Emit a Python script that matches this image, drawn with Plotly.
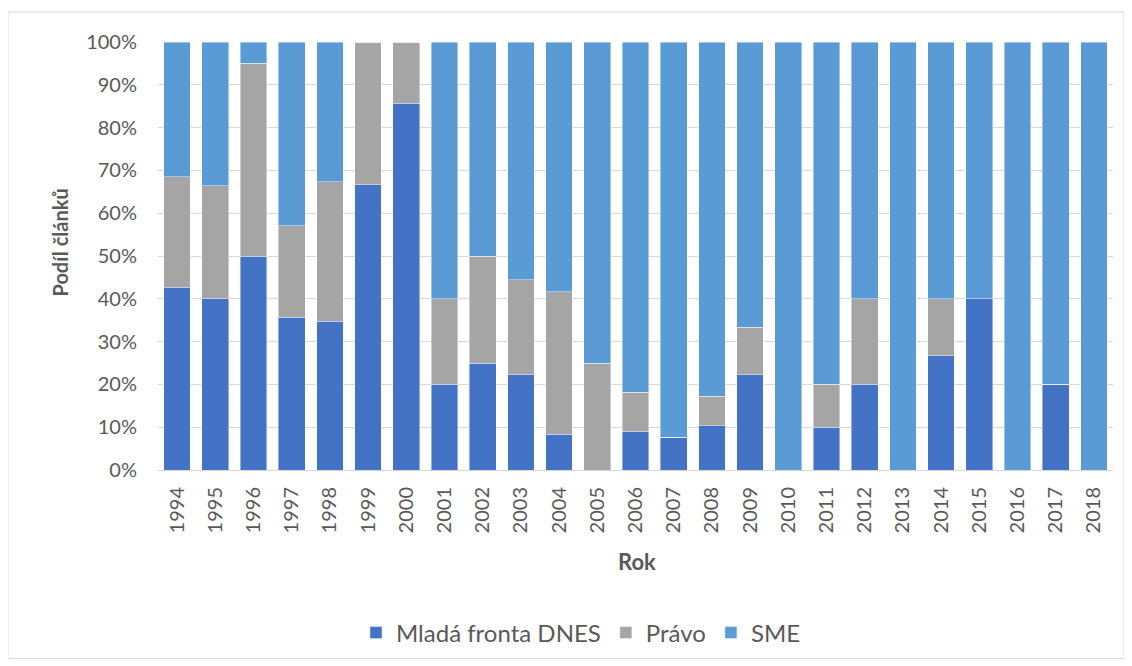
import plotly.graph_objects as go

years = [str(y) for y in range(1994, 2019)]

# podíl článků v %, čteno z grafu
mlada_fronta = [42.7, 40.0, 50.0, 35.7, 34.8, 66.7, 85.7, 20.0, 25.0, 22.2, 8.3, 0.0, 9.1,
                7.7, 10.3, 22.2, 0.0, 10.0, 20.0, 0.0, 26.7, 40.0, 0.0, 20.0, 0.0]
pravo = [25.8, 26.4, 45.0, 21.4, 32.6, 33.3, 14.3, 20.0, 25.0, 22.2, 33.4, 25.0, 9.1,
         0.0, 6.9, 11.1, 0.0, 10.0, 20.0, 0.0, 13.3, 0.0, 0.0, 0.0, 0.0]
sme = [31.5, 33.6, 5.0, 42.9, 32.6, 0.0, 0.0, 60.0, 50.0, 55.6, 58.3, 75.0, 81.8,
       92.3, 82.8, 66.7, 100.0, 80.0, 60.0, 100.0, 60.0, 60.0, 100.0, 80.0, 100.0]

series = [("Mladá fronta DNES", mlada_fronta, "#4472C4"),
          ("Právo", pravo, "#A5A5A5"),
          ("SME", sme, "#5B9BD5")]

FONT = "Lato, 'Open Sans', sans-serif"
GREY = "#595959"
OFF = 8  # page body margin
W, H = 1132 - OFF, 666 - OFF
L, R, T, B = 158 - OFF, 19, 42 - OFF, 195
pw, ph = W - L - R, H - T - B


def px_x(x):
    return (x - OFF - L) / pw


def px_y(y):
    return (H - B - (y - OFF)) / ph


fig = go.Figure()
for name, vals, col in series:
    fig.add_trace(go.Bar(
        x=years, y=vals, name=name,
        marker=dict(color=col, line=dict(color="rgba(255,255,255,0.6)", width=0.7)),
    ))

fig.update_layout(
    barmode="stack",
    barnorm="percent",
    bargap=0.30,
    width=W, height=H,
    margin=dict(l=L, r=R, t=T, b=B),
    paper_bgcolor="white", plot_bgcolor="white",
    font=dict(family=FONT, size=20, color=GREY),
    showlegend=True,
    legend=dict(orientation="h", x=px_x(581), xanchor="center", y=px_y(633),
                yanchor="middle", font=dict(size=24, color=GREY),
                traceorder="normal"),
    xaxis=dict(type="category", tickangle=-90, showgrid=False, showline=True,
               linecolor="#D9D9D9", ticks="", ticklabelstandoff=8,
               tickfont=dict(size=20, color=GREY)),
    yaxis=dict(range=[0, 100], dtick=10, ticksuffix="%", showgrid=True, gridcolor="#D9D9D9",
               gridwidth=1, zeroline=False, ticks="", ticklabelstandoff=20,
               tickfont=dict(size=20, color=GREY)),
    annotations=[
        dict(text="<b>Podíl článků</b>", xref="paper", yref="paper",
             x=px_x(60), y=px_y(243), xanchor="center", yanchor="middle",
             textangle=-90, showarrow=False, font=dict(size=20, color=GREY)),
        dict(text="<b>Rok</b>", xref="paper", yref="paper",
             x=px_x(637), y=px_y(563), xanchor="center", yanchor="middle",
             showarrow=False, font=dict(size=22, color=GREY)),
    ],
    shapes=[dict(type="rect", xref="paper", yref="paper",
                 x0=px_x(8), x1=px_x(1124), y0=px_y(660), y1=px_y(12),
                 line=dict(color="#D9D9D9", width=1), layer="below")],
)

fig.write_html("out.html")
